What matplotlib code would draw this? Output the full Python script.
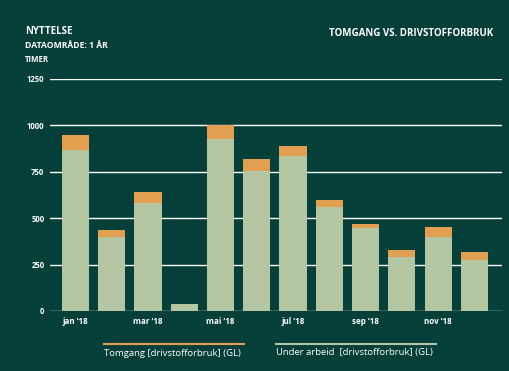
import numpy as np
import matplotlib
matplotlib.use("Agg")
import matplotlib.pyplot as plt
from matplotlib.lines import Line2D

# Data (hours per month)
months = ["jan ’18", "feb ’18", "mar ’18", "apr ’18", "mai ’18", "jun ’18",
          "jul ’18", "aug ’18", "sep ’18", "okt ’18", "nov ’18", "des ’18"]
under_arbeid = [867, 401, 583, 36, 926, 755, 835, 561, 449, 293, 401, 277]
tomgang = [81, 37, 59, 0, 74, 64, 54, 38, 21, 33, 53, 43]
y_ticks = [0, 250, 500, 750, 1000, 1250]

BG = "#044039"
ORANGE = "#e39f50"
GREEN = "#b3c5a1"
WHITE = "#ffffff"

plt.rcParams["font.family"] = ["Open Sans", "DejaVu Sans"]

fig = plt.figure(figsize=(5.09, 3.71), dpi=100, facecolor=BG)
ax = fig.add_axes([50 / 509, 1 - 311 / 371, 452 / 509, 232 / 371])
ax.set_facecolor(BG)

x = np.arange(len(months))
ax.bar(x, under_arbeid, width=0.75, color=GREEN, zorder=3)
ax.bar(x, tomgang, width=0.75, bottom=under_arbeid, color=ORANGE, zorder=3)

ax.set_xlim(-0.7, 11.76)
ax.set_ylim(0, 1250)
ax.set_yticks(y_ticks)
ax.set_yticklabels([str(v) for v in y_ticks], color=WHITE, fontsize=5.6,
                   fontweight="bold")
ax.set_xticks(x[::2])
ax.set_xticklabels(months[::2], color=WHITE, fontsize=5.8, fontweight="bold")
ax.tick_params(axis="both", length=0, pad=4)
ax.grid(axis="y", color=WHITE, linewidth=1.0, zorder=1)
for s in ax.spines.values():
    s.set_visible(False)

# headings
fig.text(25 / 509, 1 - 32 / 371, "NYTTELSE", color=WHITE, fontsize=7,
         fontweight="bold", va="center")
fig.text(25 / 509, 1 - 45 / 371, "DATAOMRÅDE: 1 ÅR", color=WHITE, fontsize=6.2,
         fontweight="bold", va="center")
fig.text(25 / 509, 1 - 59 / 371, "TIMER", color=WHITE, fontsize=5.6,
         fontweight="bold", va="center")
fig.text(493 / 509, 1 - 34 / 371, "TOMGANG VS. DRIVSTOFFORBRUK", color=WHITE,
         fontsize=7, fontweight="bold", va="center", ha="right")

# legend drawn below the axes
fig.add_artist(Line2D([104 / 509, 244 / 509], [1 - 344 / 371] * 2,
                      color=ORANGE, linewidth=1.5))
fig.add_artist(Line2D([276 / 509, 436 / 509], [1 - 344 / 371] * 2,
                      color=GREEN, linewidth=1.5))
fig.text(104 / 509, 1 - 353 / 371, "Tomgang [drivstofforbruk] (GL)",
         color=WHITE, fontsize=6.8, va="center")
fig.text(276 / 509, 1 - 353 / 371, "Under arbeid  [drivstofforbruk] (GL)",
         color=WHITE, fontsize=6.8, va="center")

fig.savefig("out.png", dpi=100, facecolor=BG)
